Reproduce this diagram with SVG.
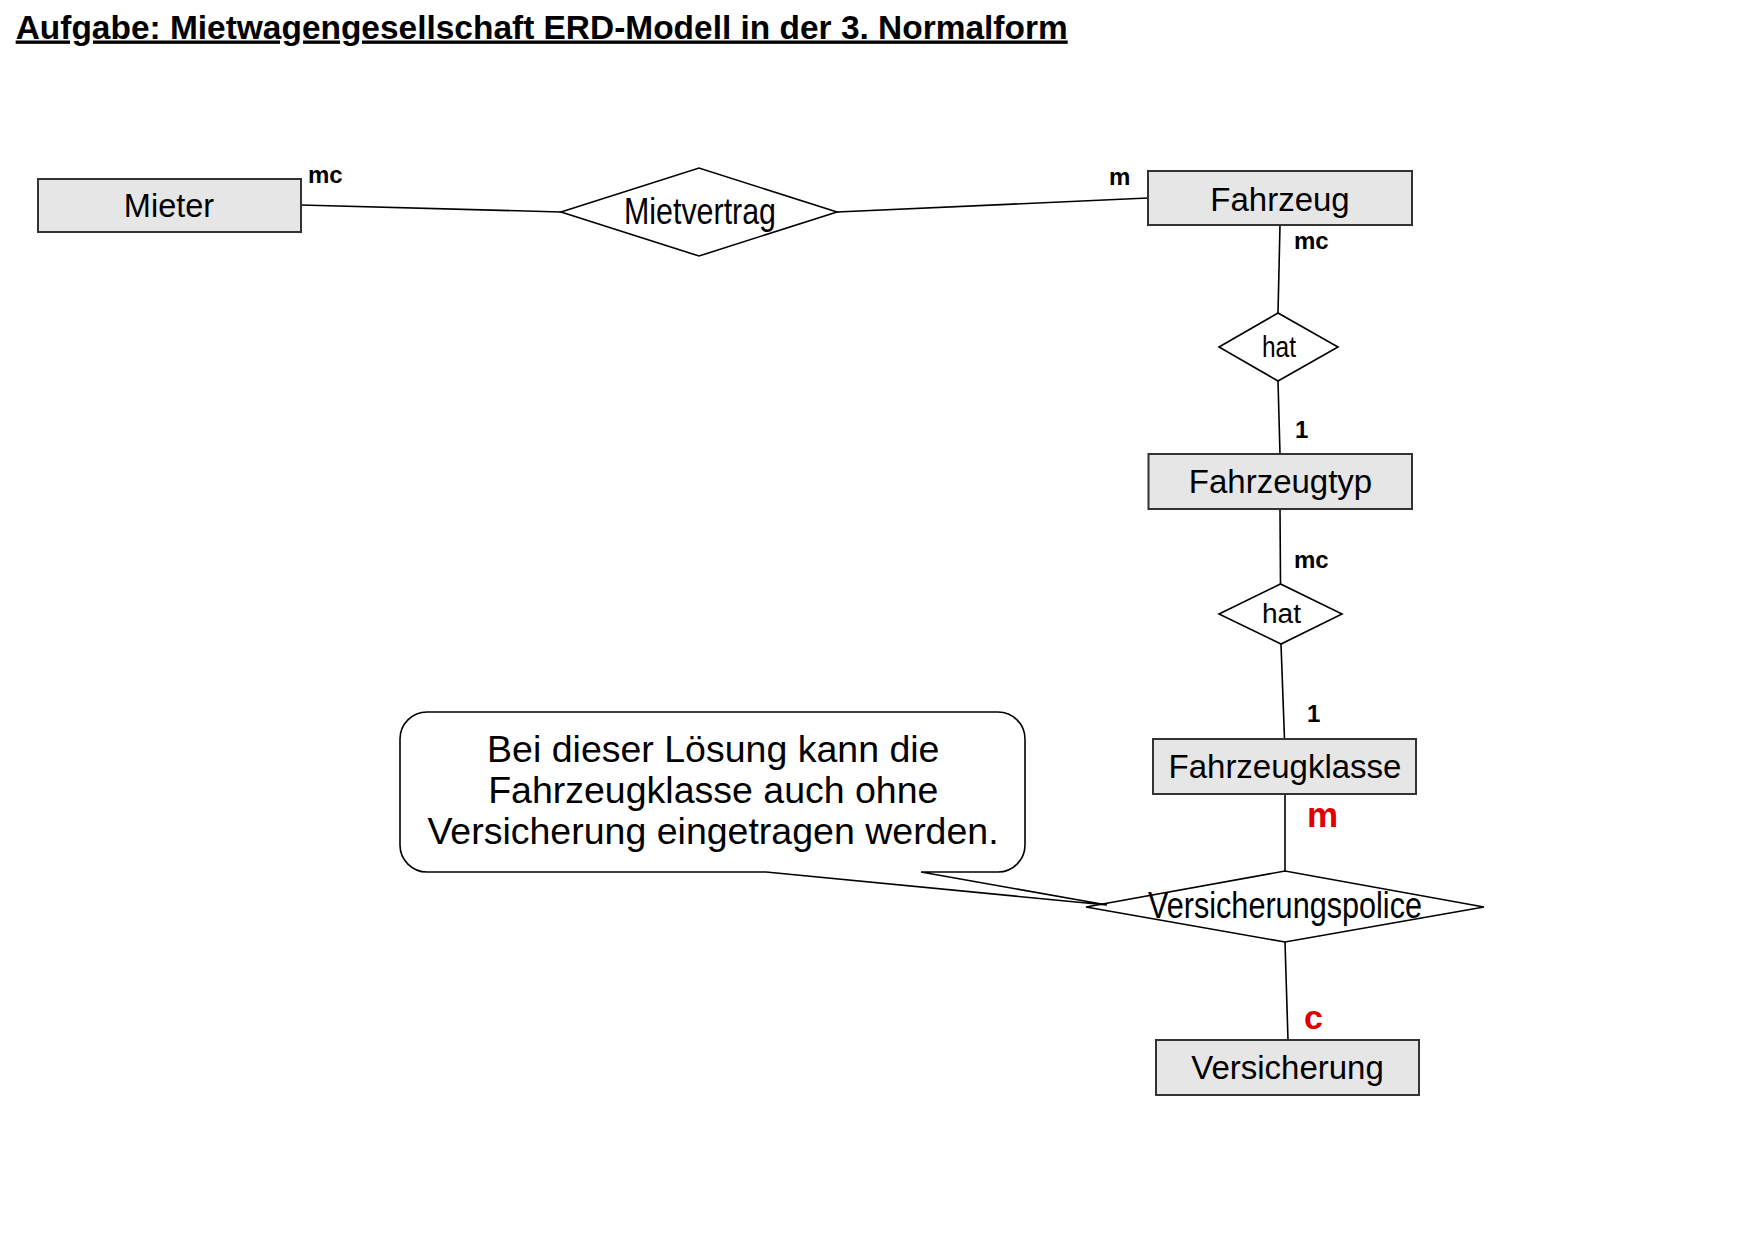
<svg xmlns="http://www.w3.org/2000/svg" width="1754" height="1239" viewBox="0 0 1754 1239">
<style>
.ent{fill:#e6e6e6;stroke:#333;stroke-width:2}
.rel{fill:#fff;stroke:#000;stroke-width:1.6}
.con{stroke:#000;stroke-width:1.6;fill:none}
.t{font-family:"Liberation Sans",Arial,sans-serif;fill:#000}
.card{font-family:"Liberation Sans",Arial,sans-serif;font-weight:bold;font-size:24px;fill:#000}
.red{font-family:"Liberation Sans",Arial,sans-serif;font-weight:bold;fill:#e00000}
</style>
<rect width="1754" height="1239" fill="#fff"/>
<text class="t" x="15.7" y="38.5" font-size="33.5" font-weight="bold" text-decoration="underline" textLength="1052" lengthAdjust="spacingAndGlyphs">Aufgabe: Mietwagengesellschaft ERD-Modell in der 3. Normalform</text>
<g id="connectors">
<line class="con" x1="301" y1="205" x2="561" y2="212"/>
<line class="con" x1="837" y1="212" x2="1148" y2="198"/>
<line class="con" x1="1280" y1="225" x2="1278" y2="313"/>
<line class="con" x1="1278" y1="381" x2="1280" y2="454"/>
<line class="con" x1="1280" y1="509" x2="1280.5" y2="584"/>
<line class="con" x1="1281" y1="644" x2="1284.5" y2="739"/>
<line class="con" x1="1285" y1="794" x2="1285" y2="871"/>
<line class="con" x1="1285" y1="942" x2="1288" y2="1040"/>
</g>
<g id="labels">
<text class="card" x="308" y="183">mc</text>
<text class="card" x="1109" y="185">m</text>
<text class="card" x="1294" y="249">mc</text>
<text class="card" x="1295" y="438">1</text>
<text class="card" x="1294" y="568">mc</text>
<text class="card" x="1307" y="722">1</text>
<text class="red" x="1307" y="827" font-size="35">m</text>
<text class="red" x="1304" y="1029" font-size="34">c</text>
</g>
<g id="mieter">
<rect class="ent" x="38" y="179" width="263" height="53"/>
<text class="t" x="169" y="216.5" font-size="32.5" text-anchor="middle">Mieter</text>
</g>
<g id="mietvertrag">
<polygon class="rel" points="561,212 699,168 837,212 699,256"/>
<text class="t" x="624" y="224" font-size="36" textLength="152" lengthAdjust="spacingAndGlyphs">Mietvertrag</text>
</g>
<g id="fahrzeug">
<rect class="ent" x="1148" y="171" width="264" height="54"/>
<text class="t" x="1280" y="211" font-size="33" text-anchor="middle">Fahrzeug</text>
</g>
<g id="hat1">
<polygon class="rel" points="1219,347 1278,313 1338,347 1278,381"/>
<text class="t" x="1262" y="357" font-size="30" textLength="34" lengthAdjust="spacingAndGlyphs">hat</text>
</g>
<g id="fahrzeugtyp">
<rect class="ent" x="1148.5" y="454" width="263.5" height="55"/>
<text class="t" x="1280.5" y="493" font-size="33" text-anchor="middle">Fahrzeugtyp</text>
</g>
<g id="hat2">
<polygon class="rel" points="1219,614 1280.5,584 1342,614 1281,644"/>
<text class="t" x="1262" y="622.5" font-size="27" textLength="39" lengthAdjust="spacingAndGlyphs">hat</text>
</g>
<g id="fahrzeugklasse">
<rect class="ent" x="1153" y="739" width="263" height="55"/>
<text class="t" x="1285" y="778" font-size="33" text-anchor="middle">Fahrzeugklasse</text>
</g>
<g id="versicherungspolice">
<polygon class="rel" points="1086,907 1285,871 1484,907 1285,942"/>
<text class="t" x="1148" y="917.5" font-size="36" textLength="274" lengthAdjust="spacingAndGlyphs">Versicherungspolice</text>
</g>
<g id="versicherung">
<rect class="ent" x="1156" y="1040" width="263" height="55"/>
<text class="t" x="1287.5" y="1079" font-size="33" text-anchor="middle">Versicherung</text>
</g>
<g id="callout">
<path class="rel" d="M427 712 H998 A27 27 0 0 1 1025 739 V845 A27 27 0 0 1 998 872 H921 L1107 905 L766 872 H427 A27 27 0 0 1 400 845 V739 A27 27 0 0 1 427 712 Z"/>
<text class="t" font-size="37.5" text-anchor="middle">
<tspan x="718.5" y="762">Bei dieser Lösung kann die</tspan>
<tspan x="718.5" y="803">Fahrzeugklasse auch ohne</tspan>
<tspan x="713" y="844">Versicherung eingetragen werden.</tspan>
</text>
</g>
</svg>
